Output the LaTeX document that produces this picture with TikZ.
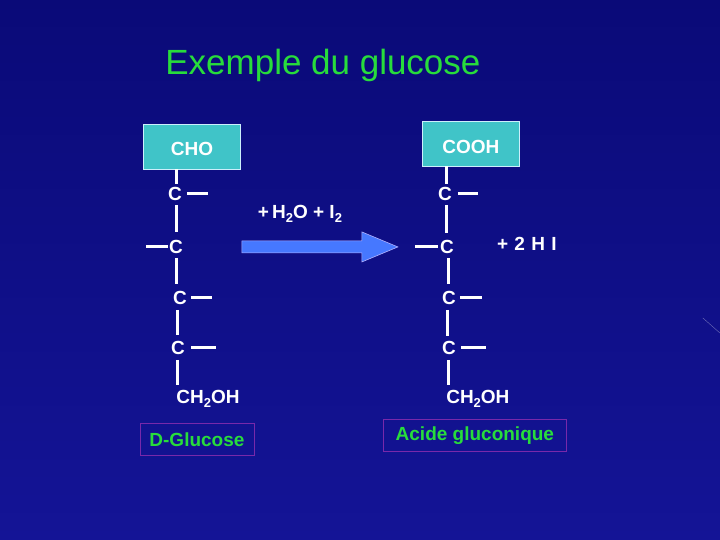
\documentclass[tikz,border=0pt]{standalone}
\usepackage{fontspec}
\setmainfont{Liberation Sans}
\definecolor{boxc}{RGB}{64,196,200}
\definecolor{purp}{RGB}{120,40,170}
\definecolor{grn}{RGB}{40,220,60}
\definecolor{arr}{RGB}{70,120,255}
\definecolor{bgA}{RGB}{10,10,120}
\definecolor{bgB}{RGB}{20,20,150}
\newcommand{\sbs}[1]{\raisebox{-0.35ex}{\fontsize{13}{14}\selectfont #1}}
\begin{document}
\begin{tikzpicture}[x=1pt,y=-1pt,
  atom/.style={text=white,font=\bfseries\fontsize{19}{22}\selectfont,inner sep=0pt},
  bond/.style={white,line width=3pt},
  topbox/.style={fill=boxc,draw=white!80!cyan,line width=0.6pt,minimum width=97pt,minimum height=45pt},
  namebox/.style={draw=purp,line width=0.8pt,text=grn,font=\bfseries\fontsize{19}{22}\selectfont,inner sep=0pt}]
\shade[shading angle=30,top color=bgA,bottom color=bgB] (0,0) rectangle (720,540);
\draw[white,opacity=0.4] (703,318) -- (720,333);
\useasboundingbox (0,0) rectangle (720,540);
\node[text=grn,font=\fontsize{35}{40}\selectfont] (title) at (323,65) {Exemple du glucose};
% left
\node[topbox] (cho) at (192,147) {};
\node[atom] at (192,149) {CHO};
\node[atom] (l1) at (175,194) {C};
\node[atom] (l2) at (176,247) {C};
\node[atom] (l3) at (180,298) {C};
\node[atom] (l4) at (178,348) {C};
\node[atom] (l5) at (208,399) {CH\sbs{2}OH};
\draw[bond] (177,169) -- (177,184);
\draw[bond] (187,194) -- (208,194);
\draw[bond] (177,205) -- (177,232);
\draw[bond] (146,247) -- (168,247);
\draw[bond] (177,258) -- (177,284);
\draw[bond] (191,298) -- (212,298);
\draw[bond] (178,310) -- (178,335);
\draw[bond] (191,348) -- (216,348);
\draw[bond] (178,360) -- (178,385);
\node[namebox,minimum width=114pt,minimum height=32pt] (dg) at (197,440) {D-Glucose};
% arrow
\fill[arr,draw=white!70!blue,line width=0.6pt] (242,241) -- (362,241) -- (362,232) -- (398,247) -- (362,262) -- (362,253) -- (242,253) -- cycle;
\node[atom] (reag) at (300,214) {+\,H\sbs{2}O + I\sbs{2}};
% right
\node[topbox] (cooh) at (471,144) {};
\node[atom] at (471,147) {COOH};
\node[atom] (r1) at (445,194) {C};
\node[atom] (r2) at (447,247) {C};
\node[atom] (r3) at (449,298) {C};
\node[atom] (r4) at (449,348) {C};
\node[atom] (r5) at (478,399) {CH\sbs{2}OH};
\node[atom] (hi) at (527,244) {+\,\,2\,\,H\,\,I};
\draw[bond] (447,166) -- (447,184);
\draw[bond] (458,194) -- (478,194);
\draw[bond] (447,205) -- (447,233);
\draw[bond] (415,247) -- (438,247);
\draw[bond] (449,258) -- (449,284);
\draw[bond] (460,298) -- (482,298);
\draw[bond] (448,310) -- (448,336);
\draw[bond] (461,348) -- (486,348);
\draw[bond] (449,360) -- (449,385);
\node[namebox,minimum width=183pt,minimum height=32pt] (ag) at (475,436) {Acide gluconique};
\end{tikzpicture}
\end{document}
